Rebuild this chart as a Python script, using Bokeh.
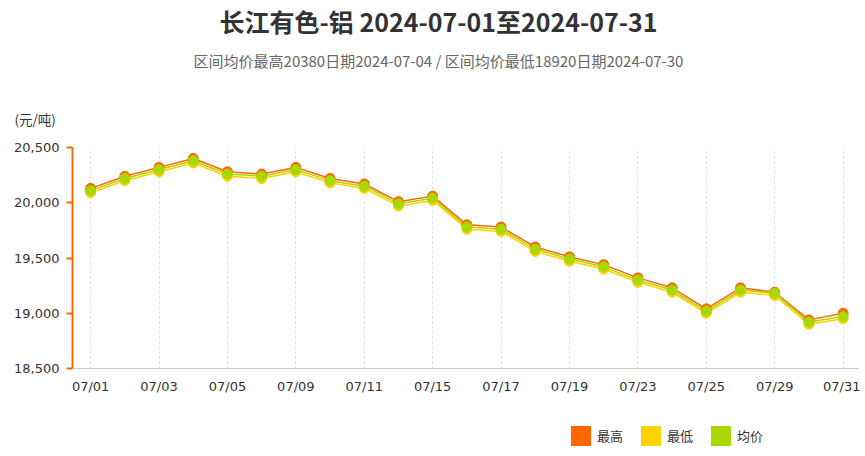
from bokeh.plotting import figure
from bokeh.layouts import column
from bokeh.models import (FixedTicker, NumeralTickFormatter, Label, Legend, LegendItem,
                          ColumnDataSource, Range1d)
from bokeh.embed import file_html
from bokeh.resources import INLINE

# ---------------- data ----------------
dates = ["07/01", "07/02", "07/03", "07/04", "07/05", "07/08", "07/09", "07/10",
         "07/11", "07/12", "07/15", "07/16", "07/17", "07/18", "07/19", "07/22",
         "07/23", "07/24", "07/25", "07/26", "07/29", "07/30", "07/31"]
high = [20130, 20240, 20320, 20400, 20280, 20260, 20320, 20220, 20170, 20010,
        20060, 19800, 19780, 19600, 19510, 19440, 19320, 19230, 19040, 19230,
        19190, 18940, 19000]
low = [20090, 20200, 20280, 20360, 20240, 20220, 20280, 20180, 20130, 19970,
       20020, 19760, 19740, 19560, 19470, 19400, 19280, 19190, 19000, 19190,
       19160, 18900, 18950]
avg = [20110, 20220, 20300, 20380, 20260, 20240, 20300, 20200, 20150, 19990,
       20040, 19780, 19760, 19580, 19490, 19420, 19300, 19210, 19020, 19210,
       19180, 18920, 18970]
y_ticks = [18500, 19000, 19500, 20000, 20500]
series_names = ["最高", "最低", "均价"]
colors = ["#FF6600", "#FFD200", "#A8D800"]

title_text = "长江有色-铝 2024-07-01至2024-07-31"
subtitle_text = "区间均价最高20380日期2024-07-04 / 区间均价最低18920日期2024-07-30"
unit_text = "(元/吨)"

idx = list(range(len(dates)))
src = ColumnDataSource(data=dict(x=idx, high=high, low=low, avg=avg))

CJK = "Noto Sans CJK SC"
NUM = "DejaVu Sans"
W = 860


def strip(height):
    f = figure(width=W, height=height, output_backend="svg", toolbar_location=None,
               x_axis_location=None, y_axis_location=None,
               x_range=Range1d(0, 1), y_range=Range1d(0, 1),
               min_border_left=0, min_border_right=0, min_border_top=0,
               min_border_bottom=0)
    f.outline_line_color = None
    f.grid.visible = False
    f.frame_align = False
    return f


# ---------------- header strip ----------------
TOP_H = 137
hd = strip(TOP_H)
hd.add_layout(Label(x=438, y=TOP_H - 20, x_units="screen", y_units="screen",
                    text=title_text, text_align="center", text_baseline="middle",
                    text_font=CJK, text_font_size="25px", text_font_style="bold",
                    text_color="#333333"))
hd.add_layout(Label(x=438, y=TOP_H - 60, x_units="screen", y_units="screen",
                    text=subtitle_text, text_align="center", text_baseline="middle",
                    text_font=CJK, text_font_size="15px", text_color="#666666"))
hd.add_layout(Label(x=14, y=TOP_H - 118, x_units="screen", y_units="screen",
                    text=unit_text, text_align="left", text_baseline="middle",
                    text_font=CJK, text_font_size="13.5px", text_color="#333333"))

# ---------------- main chart ----------------
p = figure(width=W, height=400 - TOP_H, output_backend="svg", toolbar_location=None,
           x_range=Range1d(-0.53, 22.45), y_range=Range1d(18500, 20500),
           min_border_left=72, min_border_right=2, min_border_top=147 - TOP_H,
           min_border_bottom=32)
p.outline_line_color = None
p.frame_align = False

p.ygrid.grid_line_color = None
p.xgrid.ticker = FixedTicker(ticks=idx[::2])
p.xgrid.grid_line_color = "#d8d8d8"
p.xgrid.grid_line_dash = "2 3"
p.xgrid.grid_line_width = 1

p.xaxis.ticker = FixedTicker(ticks=idx[::2])
p.xaxis.major_label_overrides = {i: dates[i] for i in idx[::2]}
p.xaxis.axis_line_color = "#cccccc"
p.xaxis.major_tick_line_color = None
p.xaxis.minor_tick_line_color = None
p.xaxis.major_tick_out = 0
p.xaxis.major_label_standoff = 10
p.xaxis.major_label_text_font = NUM
p.xaxis.major_label_text_font_size = "13px"
p.xaxis.major_label_text_color = "#333333"

p.yaxis.ticker = FixedTicker(ticks=y_ticks)
p.yaxis.formatter = NumeralTickFormatter(format="0,0")
p.yaxis.axis_line_color = "#FF6600"
p.yaxis.axis_line_width = 2
p.yaxis.major_tick_line_color = "#FF6600"
p.yaxis.major_tick_line_width = 2
p.yaxis.major_tick_out = 6
p.yaxis.major_tick_in = 0
p.yaxis.minor_tick_line_color = None
p.yaxis.major_label_standoff = 7
p.yaxis.major_label_text_font = NUM
p.yaxis.major_label_text_font_size = "13px"
p.yaxis.major_label_text_color = "#333333"

for col, c in zip(["high", "low", "avg"], colors):
    p.line("x", col, source=src, line_color=c, line_width=1.5)
for col, c in zip(["high", "low", "avg"], colors):
    p.scatter("x", col, source=src, size=10, fill_color=c, line_color=c, line_width=1)

# ---------------- legend strip ----------------
lg = strip(50)
# swatch source: one off-range row per series, only used to draw the legend swatches
sw = ColumnDataSource(data=dict(l=[-3, -3, -3], r=[-2, -2, -2], b=[-3, -3, -3],
                                t=[-2, -2, -2], c=colors, name=series_names))
sr = lg.quad(left="l", right="r", bottom="b", top="t", fill_color="c",
             line_color=None, source=sw)
items = [LegendItem(label=n, renderers=[sr], index=i) for i, n in enumerate(series_names)]
legend = Legend(items=items, orientation="horizontal", location=(568, 2),
                glyph_width=25, glyph_height=25, label_standoff=4, spacing=15,
                padding=0, margin=0, border_line_color=None, background_fill_alpha=0,
                label_text_font=CJK, label_text_font_size="13px",
                label_text_color="#333333", label_height=25)
lg.add_layout(legend, "center")

layout = column(hd, p, lg, spacing=0)
open("out.html", "w").write(file_html(layout, INLINE))
